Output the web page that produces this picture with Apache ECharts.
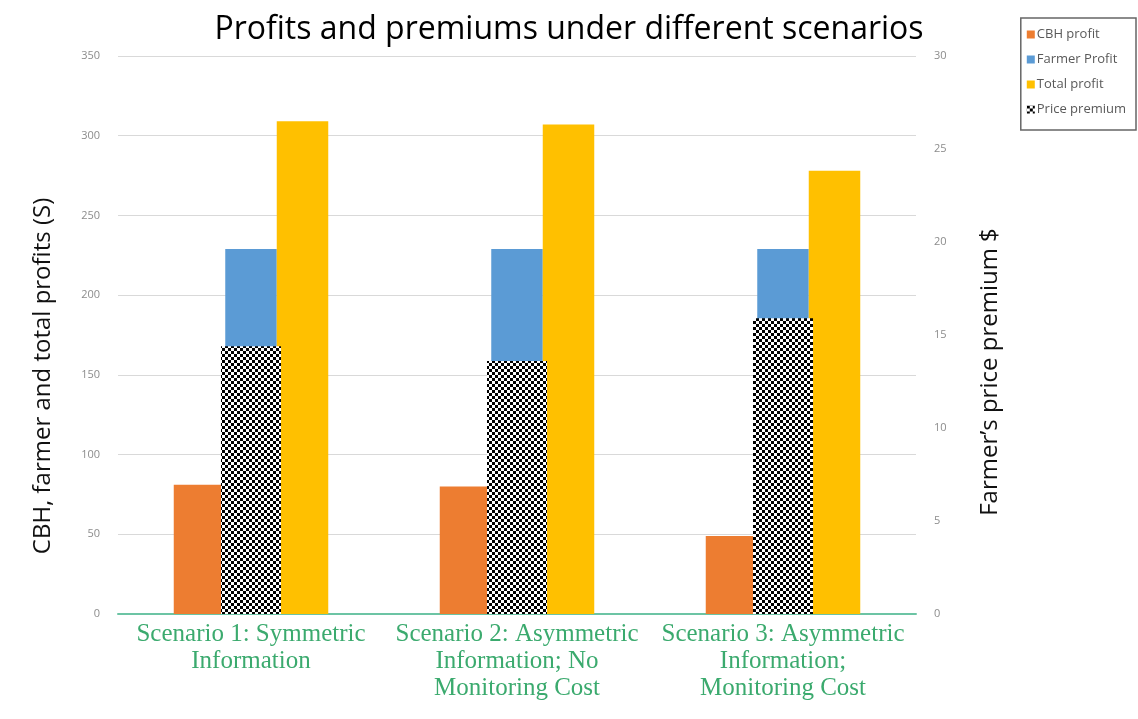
<!DOCTYPE html>
<html>
<head>
<meta charset="utf-8">
<script src="https://cdn.jsdelivr.net/npm/echarts@6/dist/echarts.min.js"></script>
<style>
html,body{margin:0;padding:0;background:#fff;}
#chart{width:1138px;height:719px;}
</style>
</head>
<body>
<div id="chart"></div>
<script>
const categories = [
  "Scenario 1: Symmetric\nInformation",
  "Scenario 2: Asymmetric\nInformation; No\nMonitoring Cost",
  "Scenario 3: Asymmetric\nInformation;\nMonitoring Cost"
];
const seriesNames = ["CBH profit", "Farmer Profit", "Total profit", "Price premium"];
const cbhProfit = [81, 80, 49];
const farmerProfit = [229, 229, 229];
const totalProfit = [309, 307, 278];
const pricePremium = [14.4, 13.6, 15.9];
const leftTicks = {min: 0, max: 350, interval: 50};
const rightTicks = {min: 0, max: 30, interval: 5};
const leftAxisName = 'CBH, farmer and total profits (S)';
const rightAxisName = 'Farmer\u2019s price premium $';

function checker() {
  const c = document.createElement('canvas');
  c.width = 6; c.height = 6;
  const ctx = c.getContext('2d');
  ctx.fillStyle = '#ffffff';
  ctx.fillRect(0, 0, 6, 6);
  ctx.fillStyle = '#000000';
  ctx.fillRect(0, 0, 3, 3);
  ctx.fillRect(3, 3, 3, 3);
  return c;
}

const chart = echarts.init(document.getElementById('chart'), null, {renderer: 'canvas'});
const axisLabelStyle = {color: '#8c8c8c', fontSize: 11, fontFamily: 'Open Sans'};
const option = {
  backgroundColor: '#ffffff',
  animation: false,
  title: {
    text: 'Profits and premiums under different scenarios',
    left: 564, top: 9, textAlign: 'center',
    textStyle: {fontFamily: 'Open Sans', fontSize: 32, fontWeight: 'normal', color: '#000'}
  },
  legend: {
    data: seriesNames,
    orient: 'vertical',
    right: 2, top: 18,
    itemWidth: 8, itemHeight: 8, itemGap: 12,
    padding: [10, 10, 14, 6],
    borderColor: '#666', borderWidth: 1.5,
    icon: 'rect',
    textStyle: {fontFamily: 'Open Sans', fontSize: 13, color: '#595959', padding: [0, 0, 0, -3]}
  },
  graphic: [
    {type: 'text', x: 43, y: 376, rotation: Math.PI / 2,
     style: {text: leftAxisName, fontFamily: 'Open Sans', fontSize: 24, fill: '#111', align: 'center', verticalAlign: 'middle'}},
    {type: 'text', x: 990, y: 372, rotation: Math.PI / 2,
     style: {text: rightAxisName, fontFamily: 'Open Sans', fontSize: 24, fill: '#111', align: 'center', verticalAlign: 'middle'}}
  ],
  grid: {left: 118, right: 222, top: 56, bottom: 105, containLabel: false},
  xAxis: [
    {
      type: 'category', data: categories,
      axisLine: {lineStyle: {color: '#6cc4a4', width: 2}},
      axisTick: {show: false},
      axisLabel: {color: '#3baa6e', fontFamily: 'Liberation Serif', fontSize: 25, lineHeight: 27, margin: 7, interval: 0}
    },
    {
      type: 'category', data: categories, show: false
    }
  ],
  yAxis: [
    {
      type: 'value', min: leftTicks.min, max: leftTicks.max, interval: leftTicks.interval,
      axisLine: {show: false}, axisTick: {show: false},
      axisLabel: Object.assign({margin: 18}, axisLabelStyle),
      splitLine: {lineStyle: {color: '#d9d9d9', width: 1}}
    },
    {
      type: 'value', min: rightTicks.min, max: rightTicks.max, interval: rightTicks.interval,
      axisLine: {show: false}, axisTick: {show: false},
      axisLabel: Object.assign({margin: 18}, axisLabelStyle),
      splitLine: {show: false}
    }
  ],
  series: [
    {name: seriesNames[0], type: 'bar', xAxisIndex: 0, yAxisIndex: 0, data: cbhProfit,
     barWidth: 51.5, barGap: '0%', itemStyle: {color: '#ed7d31'}},
    {name: seriesNames[1], type: 'bar', xAxisIndex: 0, yAxisIndex: 0, data: farmerProfit,
     barWidth: 51.5, barGap: '0%', itemStyle: {color: '#5b9bd5'}},
    {name: seriesNames[2], type: 'bar', xAxisIndex: 0, yAxisIndex: 0, data: totalProfit,
     barWidth: 51.5, barGap: '0%', itemStyle: {color: '#ffc000'}},
    {name: seriesNames[3], type: 'bar', xAxisIndex: 1, yAxisIndex: 1, data: pricePremium,
     barWidth: 60, z: 5, itemStyle: {color: {image: checker(), repeat: 'repeat'}}}
  ]
};
chart.setOption(option);
</script>
</body>
</html>
